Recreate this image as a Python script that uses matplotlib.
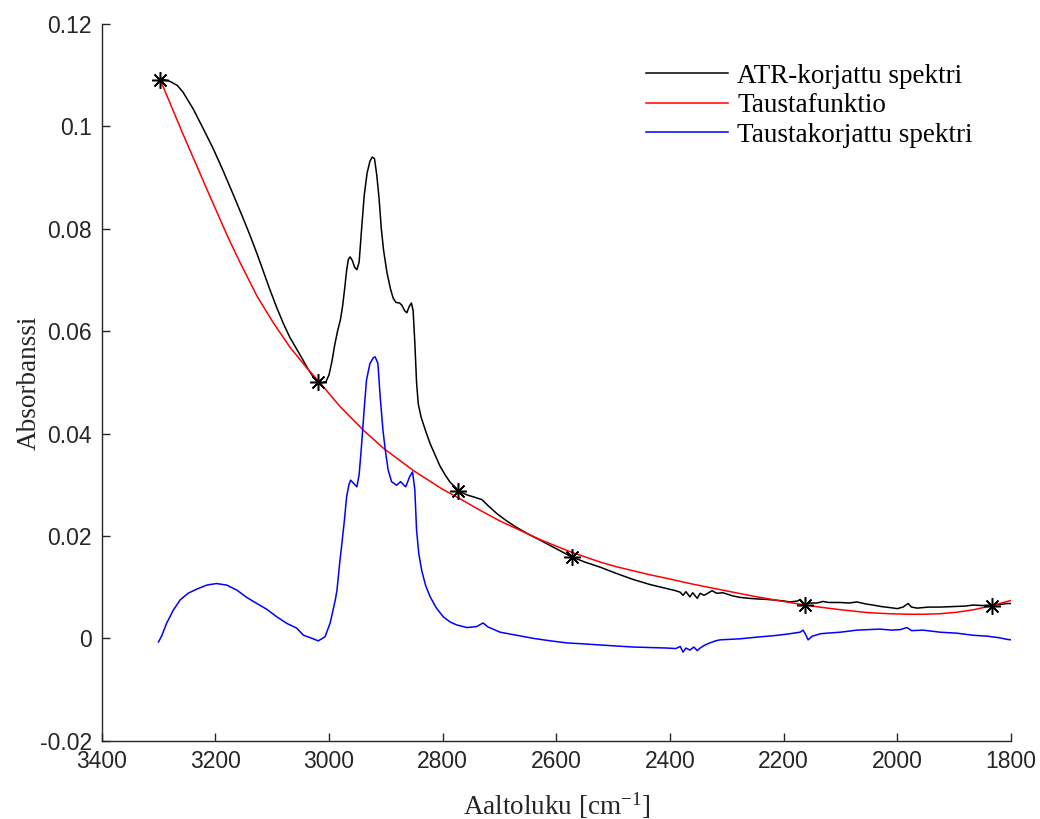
import numpy as np
import matplotlib
matplotlib.use('Agg')
import matplotlib.pyplot as plt
from matplotlib.ticker import FuncFormatter

plt.rcParams['font.family'] = ['Liberation Sans', 'DejaVu Sans']
plt.rcParams['mathtext.fontset'] = 'custom'
plt.rcParams['mathtext.rm'] = 'Liberation Serif'
plt.rcParams['mathtext.it'] = 'Liberation Serif:italic'

# ATR-korjattu spektri (aaltoluku, absorbanssi)
atr_wn = [3297, 3290, 3280, 3267, 3257, 3239, 3222, 3204, 3187, 3169, 3151, 3139,
          3127, 3116, 3104, 3092, 3080, 3069, 3057, 3046, 3037, 3028, 3019, 3012,
          3005, 3000, 2995, 2990, 2985, 2980, 2976, 2972, 2969, 2966, 2963, 2959,
          2955, 2951, 2947, 2942, 2938, 2933, 2928, 2924, 2920, 2916, 2912, 2908,
          2904, 2898, 2892, 2887, 2882, 2876, 2872, 2867, 2863, 2859, 2855, 2852,
          2849, 2846, 2843, 2838, 2830, 2822, 2812, 2805, 2795, 2787, 2773, 2765,
          2757, 2745, 2731, 2720, 2704, 2687, 2669, 2650, 2629, 2600, 2573, 2550,
          2523, 2495, 2465, 2435, 2405, 2390, 2382, 2377, 2372, 2365, 2360, 2352,
          2347, 2340, 2335, 2326, 2318, 2307, 2290, 2277, 2260, 2247, 2230, 2219,
          2200, 2189, 2175, 2171, 2166, 2162, 2155, 2141, 2131, 2120, 2101, 2085,
          2071, 2055, 2043, 2028, 2013, 2000, 1990, 1981, 1975, 1965, 1945, 1925,
          1900, 1880, 1867, 1850, 1837, 1820, 1807, 1800]
atr_abs = [0.1091, 0.1091, 0.1088, 0.1080, 0.1067, 0.1034, 0.0997, 0.0957, 0.0915, 0.0868, 0.0820, 0.0787,
           0.0752, 0.0718, 0.0681, 0.0646, 0.0614, 0.0588, 0.0565, 0.0544, 0.0526, 0.0511, 0.0502, 0.0499,
           0.0502, 0.0515, 0.0540, 0.0573, 0.0600, 0.0622, 0.0650, 0.0688, 0.0719, 0.0740, 0.0745, 0.0738,
           0.0725, 0.0720, 0.0735, 0.0810, 0.0866, 0.0909, 0.0932, 0.0940, 0.0937, 0.0905, 0.0860, 0.0800,
           0.0758, 0.0714, 0.0683, 0.0664, 0.0656, 0.0655, 0.0651, 0.0640, 0.0636, 0.0648, 0.0655, 0.0640,
           0.0577, 0.0500, 0.0458, 0.0432, 0.0405, 0.0380, 0.0355, 0.0337, 0.0318, 0.0305, 0.0290, 0.0284,
           0.0280, 0.0276, 0.0271, 0.0259, 0.0243, 0.0229, 0.0216, 0.0204, 0.0192, 0.0175, 0.0159, 0.0149,
           0.0139, 0.0127, 0.0115, 0.0105, 0.0097, 0.0093, 0.0090, 0.0084, 0.0091, 0.0081, 0.0089, 0.0078,
           0.0088, 0.0084, 0.0087, 0.0093, 0.0088, 0.0089, 0.0083, 0.0080, 0.0078, 0.0077, 0.0076, 0.0075,
           0.0073, 0.0071, 0.0073, 0.0076, 0.0070, 0.0065, 0.0069, 0.0069, 0.0072, 0.0070, 0.0070, 0.0069,
           0.0071, 0.0067, 0.0065, 0.0062, 0.0060, 0.0058, 0.0061, 0.0068, 0.0061, 0.0059, 0.0061, 0.0061,
           0.0062, 0.0063, 0.0065, 0.0064, 0.0065, 0.0066, 0.0068, 0.0068]

# Taustafunktio
bg_wn = [3297, 3280, 3257, 3232, 3209, 3178, 3157, 3127, 3099, 3069, 3039, 3019,
         2980, 2940, 2905, 2852, 2800, 2775, 2734, 2699, 2660, 2629, 2600, 2573,
         2523, 2495, 2465, 2435, 2405, 2365, 2307, 2247, 2200, 2162, 2130, 2101,
         2050, 2013, 1980, 1955, 1925, 1895, 1865, 1837, 1800]
bg_abs = [0.1091, 0.1046, 0.0985, 0.0921, 0.0862, 0.0784, 0.0735, 0.0669, 0.0618, 0.0569, 0.0528, 0.0503,
          0.0452, 0.0407, 0.0372, 0.0328, 0.0291, 0.0276, 0.0250, 0.0229, 0.0209, 0.0193, 0.0180, 0.0168,
          0.0149, 0.0140, 0.0132, 0.0124, 0.0117, 0.0107, 0.0094, 0.0081, 0.0072, 0.0065, 0.0060, 0.0056,
          0.0050, 0.0048, 0.0047, 0.0047, 0.0048, 0.0051, 0.0056, 0.0063, 0.0074]

# Taustakorjattu spektri
corr_wn = [3300, 3294, 3286, 3274, 3262, 3248, 3233, 3215, 3198, 3180, 3162, 3145,
           3127, 3110, 3092, 3074, 3057, 3045, 3030, 3019, 3007, 2998, 2989, 2986,
           2981, 2978, 2973, 2969, 2965, 2962, 2957, 2951, 2947, 2943, 2938, 2934,
           2928, 2922, 2919, 2914, 2910, 2905, 2901, 2896, 2890, 2881, 2874, 2869,
           2865, 2858, 2853, 2849, 2846, 2842, 2837, 2830, 2822, 2811, 2799, 2787,
           2775, 2757, 2740, 2729, 2720, 2699, 2670, 2641, 2610, 2581, 2550, 2523,
           2495, 2465, 2435, 2405, 2390, 2382, 2377, 2372, 2365, 2358, 2352, 2347,
           2340, 2330, 2320, 2312, 2295, 2277, 2250, 2219, 2195, 2171, 2166, 2162,
           2157, 2150, 2135, 2124, 2100, 2071, 2050, 2031, 2010, 1995, 1983, 1975,
           1955, 1925, 1895, 1867, 1840, 1820, 1807, 1800]
corr_abs = [-0.0007, 0.0006, 0.0029, 0.0055, 0.0075, 0.0088, 0.0096, 0.0104, 0.0107, 0.0104, 0.0094, 0.0080,
            0.0068, 0.0057, 0.0042, 0.0029, 0.0020, 0.0006, 0.0000, -0.0005, 0.0003, 0.0030, 0.0075, 0.0094,
            0.0150, 0.0179, 0.0230, 0.0277, 0.0300, 0.0309, 0.0303, 0.0296, 0.0320, 0.0374, 0.0450, 0.0505,
            0.0537, 0.0548, 0.0550, 0.0537, 0.0472, 0.0405, 0.0368, 0.0329, 0.0306, 0.0299, 0.0306, 0.0300,
            0.0296, 0.0316, 0.0325, 0.0290, 0.0212, 0.0165, 0.0133, 0.0103, 0.0081, 0.0059, 0.0042, 0.0032,
            0.0026, 0.0021, 0.0023, 0.0030, 0.0022, 0.0012, 0.0006, 0.0000, -0.0005, -0.0009, -0.0011, -0.0013,
            -0.0015, -0.0017, -0.0018, -0.0019, -0.0020, -0.0016, -0.0027, -0.0019, -0.0023, -0.0017, -0.0024, -0.0019,
            -0.0014, -0.0009, -0.0005, -0.0003, -0.0002, -0.0001, 0.0002, 0.0005, 0.0008, 0.0012, 0.0016, 0.0009,
            -0.0003, 0.0004, 0.0009, 0.0010, 0.0012, 0.0016, 0.0017, 0.0018, 0.0016, 0.0017, 0.0021, 0.0015,
            0.0016, 0.0012, 0.0010, 0.0006, 0.0004, 0.0001, -0.0002, -0.0003]

# taustan tukipisteet
anchor_wn = [3297, 3019, 2773, 2572, 2162, 1833]
anchor_abs = [0.1091, 0.0501, 0.0288, 0.0159, 0.0065, 0.0063]

xticks = [3400, 3200, 3000, 2800, 2600, 2400, 2200, 2000, 1800]
yticks = [-0.02, 0, 0.02, 0.04, 0.06, 0.08, 0.1, 0.12]

axis_col = '#262626'

fig = plt.figure(figsize=(10.4, 8.19), dpi=100)
ax = fig.add_axes([0.0978, 0.0956, 0.8743, 0.8751])

ax.plot(atr_wn, atr_abs, color='k', lw=1.1, label='ATR-korjattu spektri')
ax.plot(bg_wn, bg_abs, color='r', lw=1.1, label='Taustafunktio')
ax.plot(corr_wn, corr_abs, color='b', lw=1.1, label='Taustakorjattu spektri')
ax.plot(anchor_wn, anchor_abs, ls='none', marker=(8, 2, 0), ms=12, color='k', mew=1.1)

ax.set_xlim(3400, 1800)
ax.set_ylim(-0.02, 0.12)
ax.set_xticks(xticks)
ax.set_yticks(yticks)
ax.yaxis.set_major_formatter(FuncFormatter(lambda v, p: '%g' % v))

for s in ['top', 'right']:
    ax.spines[s].set_visible(False)
for s in ['left', 'bottom']:
    ax.spines[s].set_color(axis_col)
    ax.spines[s].set_linewidth(1.0)
ax.tick_params(direction='in', length=6, width=1.0, colors=axis_col, labelsize=16.5, pad=7)

ax.set_xlabel('Aaltoluku [cm$^{\\mathrm{-1}}$]', family='Liberation Serif', fontsize=19.5, color=axis_col, labelpad=12)
ax.set_ylabel('Absorbanssi', family='Liberation Serif', fontsize=19.5, color=axis_col, labelpad=-1)

ax.legend(loc='upper left', bbox_to_anchor=(632 / 1040, 1 - 50 / 819), bbox_transform=fig.transFigure,
          frameon=False, borderpad=0, handlelength=3.06, handletextpad=0.33, labelspacing=0.17,
          prop={'family': 'Liberation Serif', 'size': 19.5})

fig.savefig('out.png', dpi=100)
